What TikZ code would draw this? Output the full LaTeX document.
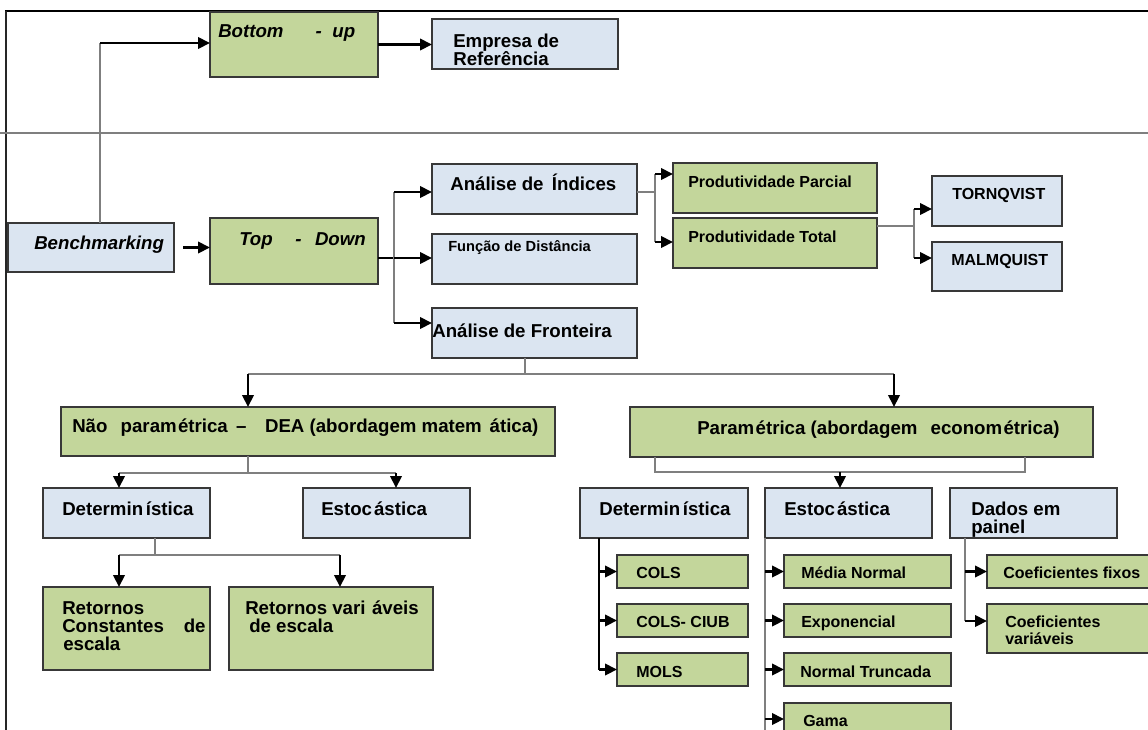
\documentclass[tikz,border=0pt]{standalone}
\usepackage{fontspec}
\setmainfont{Liberation Sans}
\usetikzlibrary{arrows.meta}
\definecolor{gfill}{HTML}{C3D69B}
\definecolor{bfill}{HTML}{DBE5F1}
\definecolor{edgec}{HTML}{383838}
\definecolor{linec}{HTML}{7F7F7F}
\newcommand{\bxx}[6]{\node[#6, minimum width={0.75*(#4-#2)}, minimum height={0.75*(#5-#3)}] (#1) at (#2,#3) {};}
\begin{document}
\begin{tikzpicture}[x=0.75pt,y=-0.75pt,
  box/.style={draw=edgec, line width=0.9pt, rectangle, inner sep=0pt, outer sep=0pt, anchor=north west},
  gbox/.style={box, fill=gfill},
  bbox/.style={box, fill=bfill},
  lbl/.style={anchor=base west, inner sep=0pt, font=\bfseries\fontsize{14}{17}\selectfont},
  lbi/.style={anchor=base west, inner sep=0pt, font=\bfseries\itshape\fontsize{14}{17}\selectfont},
  lbs/.style={anchor=base west, inner sep=0pt, font=\bfseries\fontsize{12}{14}\selectfont},
  lbf/.style={anchor=base west, inner sep=0pt, font=\bfseries\fontsize{11}{13}\selectfont},
  trunk/.style={draw=linec, line width=0.8pt},
  trunkd/.style={draw=black, line width=0.8pt},
  arr/.style={draw=black, line width=2.1pt, -{Triangle[length=9pt,width=8.5pt]}},
]
\useasboundingbox (0,0) rectangle (1148,729);
% frame
\draw[black, line width=1.6pt] (5,11) -- (1150,11);
\draw[black!85, line width=1.4pt] (6,11) -- (6,731);
\draw[linec, line width=1.2pt] (-2,133) -- (1150,133);

% boxes
\bxx{bu}{210}{12}{378}{77}{gbox}
\bxx{emp}{432}{19}{618}{69}{bbox}
\bxx{bm}{8}{223}{174}{272}{bbox}
\bxx{td}{210}{218}{378}{284}{gbox}
\bxx{ind}{432}{164}{637}{214}{bbox}
\bxx{fun}{432}{234}{637}{284}{bbox}
\bxx{fro}{432}{308}{637}{358}{bbox}
\bxx{pp}{673}{163}{877}{213}{gbox}
\bxx{pt}{673}{218}{877}{268}{gbox}
\bxx{tor}{932}{176}{1062}{226}{bbox}
\bxx{mal}{932}{242}{1062}{291}{bbox}
\bxx{np}{61}{407}{555}{456}{gbox}
\bxx{par}{630}{407}{1093}{457}{gbox}
\bxx{da}{43}{488}{210}{538}{bbox}
\bxx{ea}{303}{488}{470}{538}{bbox}
\bxx{rc}{43}{587}{210}{670}{gbox}
\bxx{rv}{229}{587}{433}{670}{gbox}
\bxx{db}{580}{488}{748}{538}{bbox}
\bxx{eb}{765}{488}{932}{538}{bbox}
\bxx{dp}{950}{488}{1117}{538}{bbox}
\bxx{cols}{617}{555}{748}{588}{gbox}
\bxx{ciub}{617}{604}{748}{637}{gbox}
\bxx{mols}{617}{653}{748}{686}{gbox}
\bxx{mn}{784}{555}{951}{588}{gbox}
\bxx{ex}{784}{604}{951}{637}{gbox}
\bxx{nt}{784}{653}{951}{686}{gbox}
\bxx{ga}{784}{703}{951}{745}{gbox}
\bxx{cf}{987}{555}{1154}{588}{gbox}
\bxx{cv}{987}{604}{1154}{653}{gbox}

% texts
\node[lbi] (t-bu) at (218,37.5) {Bottom\hspace{24pt}-\hspace{8pt}up};
\node[lbl] (t-emp1) at (453,47) {Empresa de};
\node[lbl] (t-emp2) at (453,65) {Referência};
\node[lbi] (t-bm) at (34,249) {Benchmarking};
\node[lbi] (t-td) at (239,245) {Top\hspace{17pt}-\hspace{10pt}Down};
\node[lbl] (t-ind) at (450,190) {Análise de \,Índices};
\node[lbf] (t-fun) at (448,251) {Função de Distância};
\node[lbl] (t-fro) at (432,337) {Análise de Fronteira};
\node[lbs] (t-pp) at (688,187) {Produtividade Parcial};
\node[lbs] (t-pt) at (688,242) {Produtividade Total};
\node[lbs] (t-tor) at (952,199) {TORNQVIST};
\node[lbs] (t-mal) at (951,265) {MALMQUIST};
\node[lbl] (t-np) at (72,432) {Não\hspace{6pt} param\hspace{1pt}étrica \,–\hspace{10pt} DEA (abordagem matem\hspace{2pt} ática)};
\node[lbl] (t-par) at (697,434) {Param\hspace{1pt}étrica (abordagem\hspace{6pt} econom\hspace{1pt}étrica)};
\node[lbl] (t-da) at (62,515.5) {Determin\hspace{2pt}ística};
\node[lbl] (t-ea) at (321,515.5) {Estoc\hspace{1.5pt}ástica};
\node[lbl] (t-rc1) at (62,614) {Retornos};
\node[lbl] (t-rc2) at (62,632) {Constantes\hspace{11pt} de};
\node[lbl] (t-rc3) at (63,650) {escala};
\node[lbl] (t-rv1) at (245,614) {Retornos vari\hspace{1pt} áveis};
\node[lbl] (t-rv2) at (249,632) {de escala};
\node[lbl] (t-db) at (599,515.5) {Determin\hspace{2pt}ística};
\node[lbl] (t-eb) at (784,515.5) {Estoc\hspace{1.5pt}ástica};
\node[lbl] (t-dp1) at (971,515.5) {Dados em};
\node[lbl] (t-dp2) at (971,533) {painel};
\node[lbs] (t-cols) at (636,578) {COLS};
\node[lbs] (t-ciub) at (636,627.5) {COLS- CIUB};
\node[lbs] (t-mols) at (636,677.5) {MOLS};
\node[lbs] (t-mn) at (801,578) {Média Normal};
\node[lbs] (t-ex) at (801,627.5) {Exponencial};
\node[lbs] (t-nt) at (800,677) {Normal Truncada};
\node[lbs] (t-ga) at (803,726.5) {Gama};
\node[lbs] (t-cf) at (1003,578) {Coeficientes fixos};
\node[lbs] (t-cv1) at (1005,627.5) {Coeficientes};
\node[lbs] (t-cv2) at (1005,644) {variáveis};

% connectors: benchmarking -> bottom-up
\coordinate (c1) at (100,43);
\draw[trunk] (bm.north -| c1) -- (c1);
\draw[arr] (c1) -- (c1 -| bu.west);
\draw[arr] (bu.east) -- (bu.east -| emp.west);
\draw[arr, shorten <=6.75pt] (bm.east) -- (bm.east -| td.west);

% top-down -> three
\coordinate (j1) at (394,258);
\coordinate (j1a) at (394,192);
\coordinate (j1b) at (394,323);
\draw[trunkd] (td.east |- j1) -- (j1);
\draw[trunk] (j1a) -- (j1b);
\draw[arr] (j1a) -- (j1a -| ind.west);
\draw[arr] (j1) -- (j1 -| fun.west);
\draw[arr] (j1b) -- (j1b -| fro.west);

% indices -> produtividade
\coordinate (j2) at (655,192);
\coordinate (j2a) at (655,174);
\coordinate (j2b) at (655,242);
\draw[trunk] (ind.east |- j2) -- (j2);
\draw[trunk] (j2a) -- (j2b);
\draw[arr] (j2a) -- (j2a -| pp.west);
\draw[arr] (j2b) -- (j2b -| pt.west);

% total -> tornqvist, malmquist
\coordinate (j3) at (914,226);
\coordinate (j3a) at (914,209);
\coordinate (j3b) at (914,258);
\draw[trunk] (pt.east |- j3) -- (j3);
\draw[trunk] (j3a) -- (j3b);
\draw[arr] (j3a) -- (j3a -| tor.west);
\draw[arr] (j3b) -- (j3b -| mal.west);

% fronteira -> np, par
\coordinate (j4) at (525,374);
\coordinate (j4a) at (248,374);
\coordinate (j4b) at (894,374);
\draw[trunk] (fro.south -| j4) -- (j4);
\draw[trunk] (j4a) -- (j4b);
\draw[arr] (j4a) -- (j4a |- np.north);
\draw[arr] (j4b) -- (j4b |- par.north);

% np -> det, est
\coordinate (j5) at (248,473);
\coordinate (j5a) at (119,473);
\coordinate (j5b) at (396,473);
\draw[trunk] (np.south -| j5) -- (j5);
\draw[trunk] (j5a) -- (j5b);
\draw[arr] (j5a) -- (j5a |- da.north);
\draw[arr] (j5b) -- (j5b |- ea.north);

% det -> retornos
\coordinate (j6) at (155,555);
\coordinate (j6a) at (119,555);
\coordinate (j6b) at (340,555);
\draw[trunk] (da.south -| j6) -- (j6);
\draw[trunk] (j6a) -- (j6b);
\draw[arr] (j6a) -- (j6a |- rc.north);
\draw[arr] (j6b) -- (j6b |- rv.north);

% parametrica bracket
\coordinate (k1) at (655,472);
\coordinate (k2) at (1025,472);
\coordinate (k3) at (840,472);
\draw[trunk] (par.south -| k1) -- (k1) -- (k2) -- (par.south -| k2);
\draw[arr] (k3) -- (k3 |- eb.north);

% deterministica (P)
\coordinate (m0) at (599,670);
\draw[trunkd] (db.south -| m0) -- (m0);
\draw[arr] (cols.west -| m0) -- (cols.west);
\draw[arr] (ciub.west -| m0) -- (ciub.west);
\draw[arr] (mols.west -| m0) -- (mols.west);

% estocastica (P)
\coordinate (n0) at (765,735);
\coordinate (n1) at (765,719);
\draw[trunk] (eb.south -| n0) -- (n0);
\draw[arr] (mn.west -| n0) -- (mn.west);
\draw[arr] (ex.west -| n0) -- (ex.west);
\draw[arr] (nt.west -| n0) -- (nt.west);
\draw[arr] (n1) -- (n1 -| ga.west);

% dados em painel
\coordinate (p0) at (965,571.5);
\coordinate (p1) at (965,621);
\draw[trunk] (dp.south -| p1) -- (p1);
\draw[arr] (p0) -- (p0 -| cf.west);
\draw[arr] (p1) -- (p1 -| cv.west);
\end{tikzpicture}
\end{document}
